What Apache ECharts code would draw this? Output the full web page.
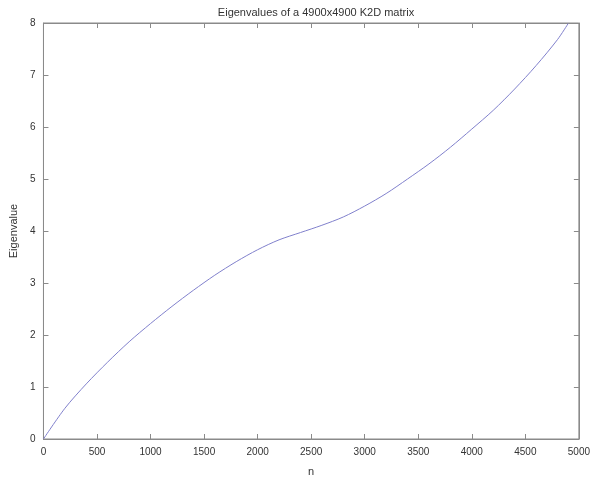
<!DOCTYPE html>
<html>
<head>
<meta charset="utf-8">
<style>
  html, body { margin: 0; padding: 0; background: #fff; }
  #chart { width: 593px; height: 482px; }
</style>
<script src="https://cdn.jsdelivr.net/npm/echarts@6/dist/echarts.min.js"></script>
</head>
<body>
<div id="chart"></div>
<script>
// Sorted eigenvalues of the 2D Laplacian matrix K2D (index n -> eigenvalue)
const indexN = [0, 200, 400, 600, 800, 1000, 1200, 1400, 1600, 1800, 2000, 2200, 2400,
                2600, 2800, 3000, 3200, 3400, 3600, 3800, 4000, 4200, 4400, 4600, 4800, 4900];
const eigenvalues = [0.00, 0.59, 1.06, 1.48, 1.87, 2.22, 2.55, 2.86, 3.15, 3.41, 3.64, 3.83, 3.97,
                     4.11, 4.27, 4.48, 4.72, 5.00, 5.29, 5.61, 5.96, 6.32, 6.73, 7.18, 7.68, 7.99];
const xTicks = { min: 0, max: 5000, step: 500 };
const yTicks = { min: 0, max: 8, step: 1 };

const titleText = 'Eigenvalues of a 4900x4900 K2D matrix';
const xName = 'n';
const yName = 'Eigenvalue';

const font = 'Liberation Sans, Arial, Helvetica, sans-serif';
const axisColor = '#8a8a8a';
const textColor = '#333';

function boxAxis(extra, showLabels) {
  return Object.assign({
    type: 'value',
    show: true,
    axisLine: { show: true, onZero: false, lineStyle: { color: axisColor, width: 1 } },
    axisTick: { show: true, inside: true, length: 5, lineStyle: { color: axisColor } },
    splitLine: { show: false },
    axisLabel: {
      show: showLabels, color: textColor, fontFamily: font, fontSize: 10, margin: 8,
      formatter: v => String(v)
    }
  }, extra);
}

const points = indexN.map((n, i) => [n, eigenvalues[i]]);

const chart = echarts.init(document.getElementById('chart'), null, { renderer: 'canvas' });
chart.setOption({
  animation: false,
  backgroundColor: '#fff',
  title: {
    text: titleText,
    left: 311, textAlign: 'center', top: 2,
    textStyle: { color: textColor, fontFamily: font, fontSize: 11, fontWeight: 'normal' }
  },
  grid: {
    left: 41, right: 12, top: 23, bottom: 33, containLabel: false,
    show: true, borderColor: axisColor, borderWidth: 1
  },
  xAxis: [
    boxAxis({
      min: xTicks.min, max: xTicks.max, interval: xTicks.step, position: 'bottom',
      name: xName, nameLocation: 'middle', nameGap: 27,
      nameTextStyle: { color: textColor, fontFamily: font, fontSize: 11 }
    }, true),
    boxAxis({
      min: xTicks.min, max: xTicks.max, interval: xTicks.step, position: 'top'
    }, false)
  ],
  yAxis: [
    boxAxis({
      min: yTicks.min, max: yTicks.max, interval: yTicks.step, position: 'left',
      name: yName, nameLocation: 'middle', nameGap: 22,
      nameTextStyle: { color: textColor, fontFamily: font, fontSize: 11 }
    }, true),
    boxAxis({
      min: yTicks.min, max: yTicks.max, interval: yTicks.step, position: 'right'
    }, false)
  ],
  series: [{
    type: 'line',
    xAxisIndex: 0, yAxisIndex: 0,
    data: points,
    showSymbol: false,
    smooth: 0.3,
    lineStyle: { color: '#8080cc', width: 1 }
  }, {
    // same curve bound to the top/right axes so their ticks are drawn
    type: 'line',
    xAxisIndex: 1, yAxisIndex: 1,
    data: points,
    showSymbol: false,
    silent: true,
    lineStyle: { opacity: 0 }
  }]
});
</script>
</body>
</html>
